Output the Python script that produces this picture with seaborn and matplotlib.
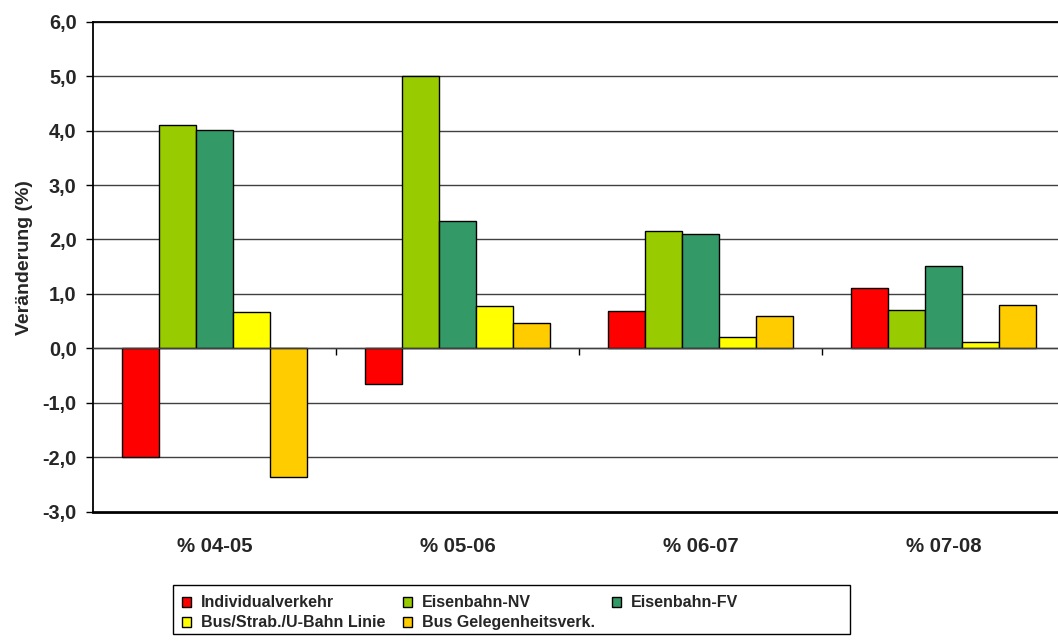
import matplotlib
matplotlib.use("Agg")
import matplotlib.pyplot as plt
from matplotlib.patches import Rectangle
import seaborn as sns
import pandas as pd

# Periods and year-over-year change (%) per transport mode
periods = ["% 04-05", "% 05-06", "% 06-07", "% 07-08"]
modes = ["Individualverkehr", "Eisenbahn-NV", "Eisenbahn-FV",
         "Bus/Strab./U-Bahn Linie", "Bus Gelegenheitsverk."]
individualverkehr = [-2.00, -0.66, 0.69, 1.10]
eisenbahn_nv = [4.11, 5.00, 2.16, 0.70]
eisenbahn_fv = [4.01, 2.34, 2.10, 1.51]
bus_linie = [0.67, 0.77, 0.20, 0.11]
bus_gelegenheit = [-2.36, 0.46, 0.59, 0.80]
y_ticks = [-3, -2, -1, 0, 1, 2, 3, 4, 5, 6]

colors = ["#FF0000", "#99CC00", "#339966", "#FFFF00", "#FFCC00"]

series = [individualverkehr, eisenbahn_nv, eisenbahn_fv, bus_linie, bus_gelegenheit]
df = pd.DataFrame(
    [(p, m, v) for m, vals in zip(modes, series) for p, v in zip(periods, vals)],
    columns=["Periode", "Verkehrsart", "Veränderung"],
)

sns.set_theme(style="white")
plt.rcParams["font.family"] = ["Liberation Sans", "DejaVu Sans"]
plt.rcParams["font.weight"] = "bold"

fig = plt.figure(figsize=(10.58, 6.44), dpi=100)
ax = fig.add_axes([0.0882, 0.2054, 0.9184, 0.7609])

sns.barplot(data=df, x="Periode", y="Veränderung", hue="Verkehrsart",
            hue_order=modes, order=periods, palette=colors, saturation=1,
            width=0.76, edgecolor="black", linewidth=1.0, ax=ax)

ax.set_ylim(-3, 6)
ax.set_xlim(-0.5, 3.5)
ax.set_yticks(y_ticks)
ax.set_yticklabels([f"{t:.1f}".replace(".", ",") for t in y_ticks],
                   fontsize=14.3, fontweight="bold")
ax.yaxis.grid(True, color="#404040", linewidth=1.0)
ax.set_axisbelow(True)
ax.tick_params(axis="y", direction="out", length=5, width=1, color="black",
               pad=7, left=True)
ax.set_ylabel("Veränderung (%)", fontsize=14, fontweight="bold")
ax.yaxis.set_label_coords(-0.062, 0.518)
ax.set_xlabel("")

# Category axis runs along zero with ticks between groups
ax.spines["bottom"].set_position(("data", 0))
ax.spines["bottom"].set_color("#404040")
ax.spines["bottom"].set_linewidth(1.0)
ax.set_xticks([0.5, 1.5, 2.5])
ax.set_xticklabels([])
ax.tick_params(axis="x", direction="out", length=5, width=1, color="black",
               bottom=True)

for side in ["left", "top"]:
    ax.spines[side].set_visible(True)
    ax.spines[side].set_color("black")
    ax.spines[side].set_linewidth(1.3)
ax.spines["right"].set_visible(False)

# Period labels below the plot frame
sec = ax.secondary_xaxis("bottom")
sec.set_xticks(range(len(periods)))
sec.set_xticklabels(periods, fontsize=14.7, fontweight="bold")
sec.tick_params(length=0, pad=18)
sec.spines["bottom"].set_color("black")
sec.spines["bottom"].set_linewidth(2.0)

# Legend in three columns, filled row by row, inside a plain box
handles, labels = ax.get_legend_handles_labels()
ax.get_legend().remove()
order = [0, 3, 1, 4, 2]
fig.add_artist(Rectangle((0.1635, 0.0155), 0.640, 0.0761,
                         transform=fig.transFigure, facecolor="white",
                         edgecolor="black", linewidth=1.0, zorder=1))
leg = fig.legend([handles[i] for i in order], [labels[i] for i in order],
                 loc="upper left", bbox_to_anchor=(0.172, 0.0755), ncol=3,
                 frameon=False, prop={"size": 11.5, "weight": "bold"},
                 handlelength=0.58, handleheight=0.6, handletextpad=0.6,
                 columnspacing=1.1, labelspacing=0.32, borderpad=0,
                 borderaxespad=0)
leg.set_zorder(2)

fig.savefig("out.png", dpi=100, facecolor="white")
